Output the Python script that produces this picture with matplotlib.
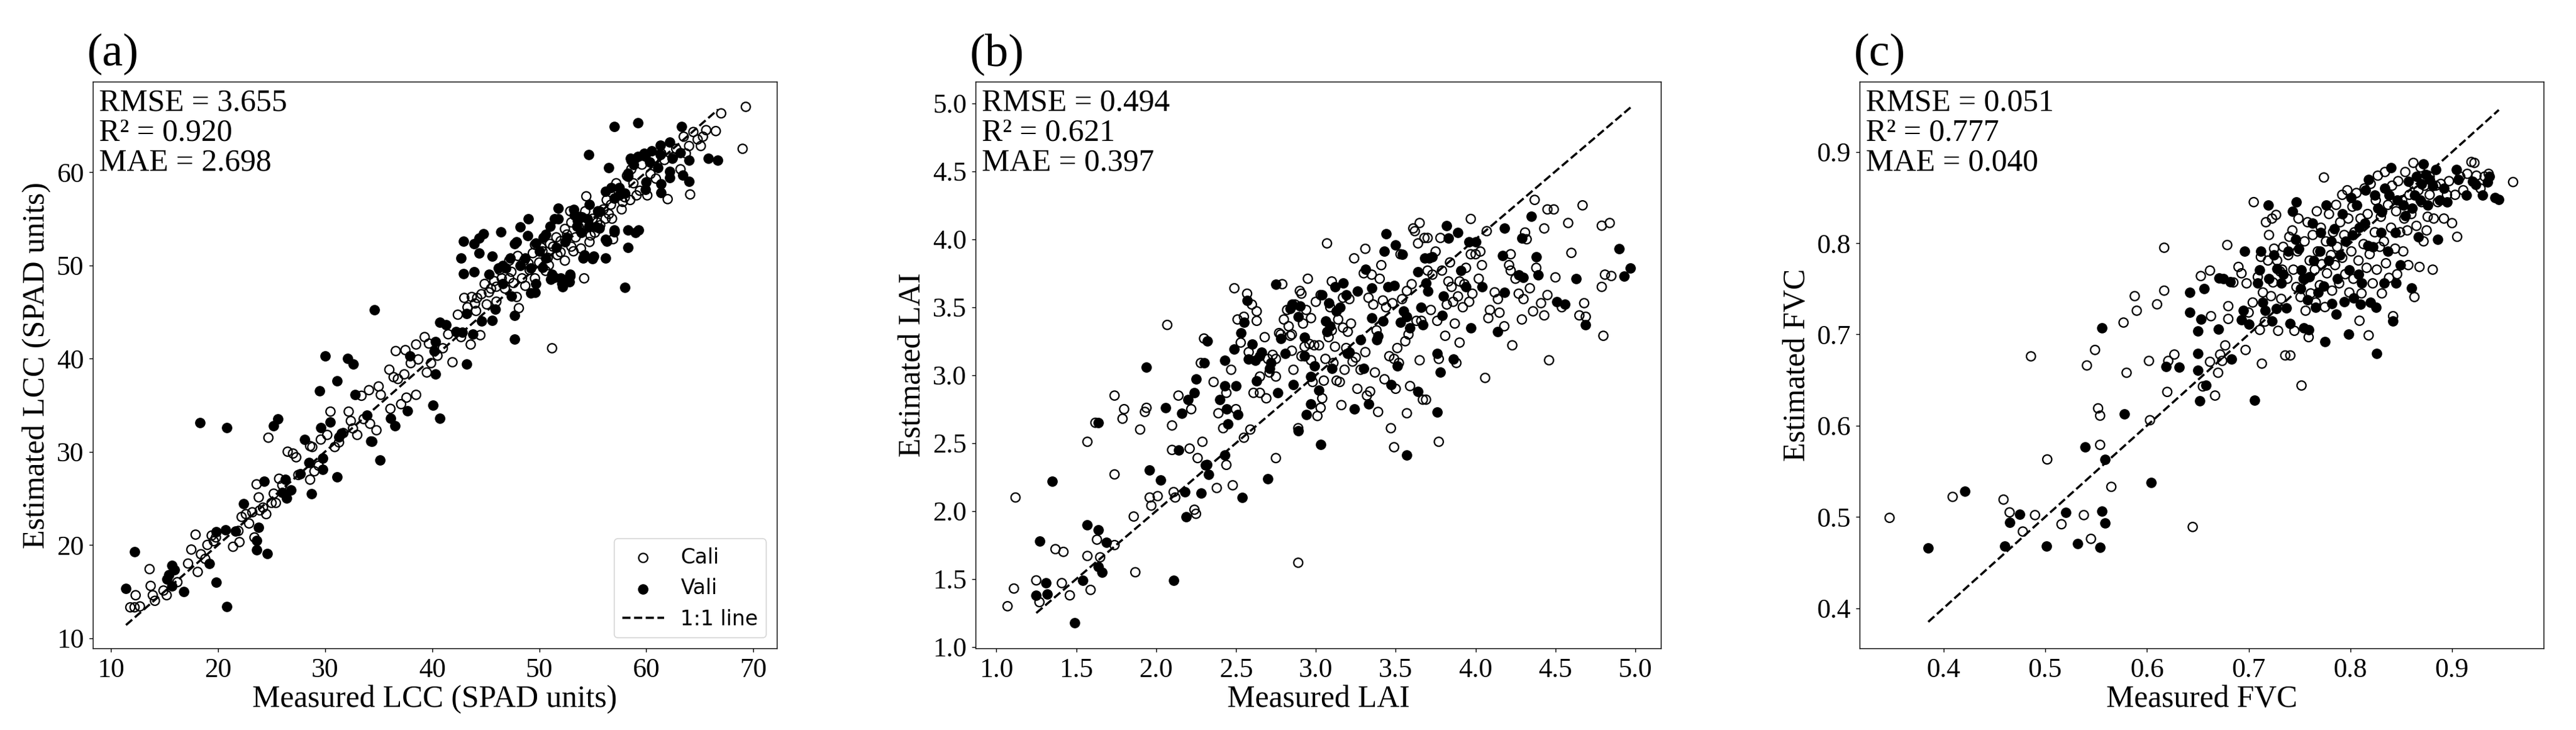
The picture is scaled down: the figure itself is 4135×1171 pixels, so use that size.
import matplotlib
matplotlib.use('Agg')
import matplotlib.pyplot as plt
import matplotlib.ticker as mticker
import numpy as np

plt.rcParams['font.family'] = ['Liberation Serif', 'DejaVu Serif']

# ---------------- Panel (a): LCC ----------------
a_cali = np.array([
(11.8,13.3),(12.2,13.3),(12.3,14.6),(12.7,13.4),(13.6,17.4),(13.7,15.6),(13.9,14.6),(14.1,14.0),(14.9,15.1),(15.2,14.6),
(16.2,16.0),(17.2,18.0),(17.5,19.5),(17.9,21.1),(18.1,17.1),(18.4,19.0),(18.8,18.5),(19.0,20.0),(19.4,21.0),(19.6,20.4),
(19.8,20.8),(21.4,19.8),(21.9,21.5),(22.0,20.3),(22.2,23.0),(22.6,23.3),(22.9,22.3),(23.2,23.5),(23.4,20.8),(23.6,26.5),
(23.8,25.1),(23.9,23.7),(24.2,24.0),(24.5,23.3),(24.7,31.5),(25.0,24.5),(25.2,25.5),(25.4,24.5),(25.7,27.1),(26.0,26.4),
(26.5,30.0),(27.0,29.8),(27.3,29.4),(27.5,27.5),(28.6,30.6),(28.8,30.5),(28.6,27.0),(29.0,27.9),(29.4,28.5),(29.6,31.3),
(30.2,31.8),(30.5,34.3),(30.9,30.5),(31.3,31.0),(31.7,32.0),(32.2,34.3),(32.4,33.3),(32.6,32.5),(33.0,31.8),(33.4,36.0),
(33.6,33.5),(34.1,36.6),(34.2,33.0),(34.3,31.1),(34.8,32.3),(35.0,37.0),(35.2,36.1),(36.0,38.8),(36.1,34.6),(36.4,38.0),
(36.6,40.8),(36.8,37.8),(37.1,35.1),(37.4,38.3),(37.5,40.9),(37.6,35.8),(38.0,39.5),(38.5,41.5),(38.5,36.1),(38.7,39.9),
(39.3,42.3),(39.5,38.5),(39.7,41.6),(39.9,39.5),(40.5,40.3),(41.0,41.1),(41.5,42.6),(41.9,39.6),(42.4,44.7),(42.7,42.3),
(43.0,46.5),(43.3,45.5),(43.6,41.5),(43.7,46.6),(44.0,45.9),(44.1,45.1),(44.2,46.5),(44.5,42.5),(44.6,46.9),(44.9,48.0),
(45.1,45.8),(45.3,47.1),(45.5,47.5),(45.8,48.3),(46.0,46.1),(46.3,49.5),(46.5,48.6),(46.8,47.5),(47.2,50.5),(47.4,49.3),
(47.6,48.1),(47.9,46.6),(48.1,45.4),(48.4,48.6),(48.6,50.5),(48.7,47.8),(49.1,49.5),(49.4,51.3),(49.6,48.6),(50.0,50.3),
(50.3,51.5),(50.6,49.4),(50.8,50.8),(51.2,41.1),(51.3,52.0),(51.7,51.1),(52.0,52.6),(52.4,50.5),(52.6,53.3),(52.9,55.8),
(53.2,51.5),(53.4,53.0),(53.7,54.1),(53.9,51.8),(54.2,48.6),(54.3,55.8),(54.4,57.4),(54.7,52.5),(55.0,55.0),(55.2,53.5),
(55.5,55.8),(55.7,54.3),(56.2,55.0),(56.3,57.0),(56.5,55.5),(56.7,56.5),(56.9,52.8),(57.2,58.8),(57.4,58.0),(57.7,56.0),
(58.0,57.3),(58.2,59.6),(58.6,60.3),(58.8,58.8),(59.1,57.5),(59.4,58.0),(59.6,60.8),(60.1,57.5),(60.4,59.8),(60.7,61.5),
(60.9,59.3),(61.4,62.0),(61.7,61.3),(62.0,57.1),(62.5,61.6),(62.8,62.5),(63.2,60.3),(63.5,63.8),(63.7,62.0),(64.0,62.8),
(64.1,57.6),(64.4,64.3),(64.8,63.5),(65.1,62.8),(65.3,63.8),(65.6,64.5),(66.5,64.4),(67.0,66.3),(69.0,62.5),(69.3,67.0),
(48.0,51.0),(49.0,50.2),(50.2,51.9),(51.0,52.3),(51.6,53.0),(52.4,53.9),(53.0,54.6),(53.8,55.2),(54.8,53.2),(55.4,54.6),
(56.0,56.0),(56.8,55.0),(57.8,56.8),(58.5,57.0),(49.6,52.2),(50.9,50.0),(47.2,48.6),(46.0,47.7),(52.0,51.4),(53.0,52.0),
])
a_vali = np.array([
(11.4,15.3),(12.2,19.3),(15.2,16.3),(15.4,16.8),(15.7,17.8),(15.9,17.3),(15.7,15.6),(16.8,15.0),(18.3,33.1),(19.2,18.0),
(19.8,16.0),(19.8,21.4),(20.7,21.6),(20.8,32.6),(20.8,13.4),(21.6,21.5),(22.4,24.4),(23.6,19.5),(23.6,20.5),(23.8,21.9),
(24.3,26.8),(24.6,19.1),(25.2,32.8),(25.6,33.5),(26.0,25.6),(26.3,27.0),(26.4,25.0),(26.8,25.9),(27.7,27.6),(28.1,31.3),
(28.5,28.8),(28.7,25.5),(29.5,36.5),(29.6,32.6),(29.8,29.3),(29.8,28.1),(30.0,40.3),(30.5,33.2),(31.1,37.6),(31.1,27.3),
(31.3,31.6),(31.5,32.0),(32.1,40.0),(32.6,39.4),(32.8,36.1),(33.9,33.9),(34.4,31.1),(34.6,45.2),(35.1,29.1),(36.1,33.6),
(36.5,32.8),(37.7,34.4),(37.9,40.3),(40.1,35.0),(40.3,38.3),(40.3,41.8),(40.7,33.6),(40.2,40.8),(40.7,43.9),(41.3,43.6),
(42.2,42.9),(42.8,42.8),(43.2,39.4),(42.7,50.8),(42.9,52.6),(42.9,49.1),(43.2,44.8),(43.8,42.6),(43.9,49.3),(43.9,52.3),
(44.4,51.3),(44.8,53.4),(44.6,44.0),(45.3,49.0),(45.6,51.0),(45.6,44.1),(45.9,45.3),(46.4,53.6),(46.6,48.0),(47.4,46.7),
(47.7,44.6),(47.7,42.1),(47.9,52.5),(48.2,54.1),(48.2,50.0),(49.0,55.0),(49.2,47.0),(49.6,47.1),(50.0,51.5),(50.3,49.8),
(50.6,53.3),(51.0,54.2),(51.1,48.5),(51.8,56.1),(51.8,55.0),(52.1,48.0),(52.4,52.5),(52.9,48.8),(53.2,56.0),(53.6,54.8),
(53.9,53.5),(54.1,50.8),(54.6,61.9),(54.7,56.5),(55.1,51.0),(55.6,54.0),(56.2,52.8),(56.2,50.8),(56.5,60.5),(57.0,64.9),
(57.0,53.8),(57.5,57.5),(58.0,47.6),(58.3,53.8),(58.3,51.9),(58.5,61.5),(59.0,53.5),(59.3,53.8),(59.2,65.3),(59.8,62.0),
(60.3,61.1),(61.3,61.9),(61.4,57.8),(62.2,60.1),(62.4,61.5),(63.2,62.1),(63.3,64.9),(64.0,61.3),(64.0,59.0),(65.8,61.5),
(66.7,61.3),(58.3,59.5),(56.7,58.3),(61.1,60.5),
(53.3,55.4),(54.0,55.2),(54.6,54.1),(55.3,54.1),(55.7,55.8),(56.2,57.9),(56.3,52.6),(57.0,53.6),(55.0,50.7),(54.2,51.1),
(51.2,49.0),(52.0,48.6),(52.8,48.2),(52.2,47.7),(52.9,49.0),(57.0,57.2),(58.0,57.7),(57.5,58.3),(58.6,61.3),(59.2,61.7),
(59.9,61.8),(60.5,62.3),(61.3,62.9),(62.2,63.2),(62.2,59.4),(61.4,58.7),(63.4,59.7),(60.0,58.9),(59.9,58.1),(58.8,60.8),
(58.3,59.9),(44.4,52.9),(46.6,50.0),(46.9,49.7),(47.7,52.3),(48.9,53.2),(49.7,52.4),(50.4,53.0),(51.4,55.0),(51.4,48.7),
(49.7,48.0),(46.2,49.7),(47.3,50.8),(48.7,50.8),(49.2,49.7),(50.6,50.8),(51.6,51.9),(52.6,53.0),(53.5,54.2),(54.5,55.0),
(55.5,55.7),
])

# ---------------- Panel (b): LAI ----------------
b_cali = np.array([
(1.07,1.30),(1.11,1.43),(1.12,2.10),(1.25,1.49),(1.27,1.33),(1.37,1.72),(1.41,1.47),(1.42,1.70),(1.46,1.38),(1.57,1.67),
(1.57,2.51),(1.59,1.42),(1.62,2.65),(1.63,1.79),(1.65,1.66),(1.74,1.75),(1.74,2.85),(1.74,2.27),(1.80,2.75),(1.79,2.68),
(1.86,1.96),(1.87,1.55),(1.90,2.60),(1.93,2.73),(1.94,2.76),(1.96,2.10),(1.97,2.04),(2.01,2.11),(2.07,3.37),(2.10,2.45),
(2.10,2.63),(2.11,2.14),(2.12,2.10),(2.14,2.85),(2.21,2.46),(2.22,2.75),(2.24,2.01),(2.25,1.98),(2.26,2.39),(2.28,3.09),
(2.29,2.51),(2.30,3.27),(2.32,2.34),(2.36,2.95),(2.38,2.17),(2.39,2.72),(2.42,2.61),(2.44,2.34),(2.44,2.87),(2.47,3.04),
(2.48,2.19),(2.49,3.64),(2.50,2.75),(2.51,3.41),(2.53,3.24),(2.55,2.54),(2.55,3.43),(2.57,3.60),(2.58,3.17),(2.59,2.60),
(2.60,3.52),(2.61,2.87),(2.63,3.47),(2.63,3.40),(2.65,2.87),(2.65,2.99),(2.68,3.28),(2.69,2.83),(2.70,3.12),(2.71,3.02),
(2.73,3.15),(2.75,2.39),(2.75,3.12),(2.75,2.99),(2.77,3.31),(2.78,3.30),(2.79,3.67),(2.80,3.41),(2.82,3.48),(2.83,3.36),
(2.84,3.29),(2.85,3.18),(2.85,3.30),(2.86,3.04),(2.87,3.52),(2.89,2.61),(2.89,1.62),(2.90,3.62),(2.91,3.14),(2.91,3.60),
(2.92,3.38),(2.93,3.21),(2.94,3.48),(2.95,3.71),(2.96,3.23),(2.97,3.11),(2.97,3.42),(2.98,2.95),(2.99,3.22),(3.00,3.54),
(3.01,2.70),(3.02,3.22),(3.03,3.59),(3.03,2.76),(3.04,2.83),(3.05,2.96),(3.06,3.12),(3.07,3.97),(3.08,3.28),(3.09,3.50),
(3.10,3.69),(3.10,3.33),(3.11,3.09),(3.12,3.21),(3.13,2.96),(3.14,3.41),(3.15,2.95),(3.16,2.78),(3.17,3.57),(3.17,3.35),
(3.18,3.04),(3.19,3.20),(3.20,3.32),(3.21,3.56),(3.22,3.38),(3.23,3.10),(3.24,3.86),(3.25,3.13),(3.26,2.90),(3.28,3.04),
(3.30,3.75),(3.31,3.17),(3.31,3.93),(3.32,2.85),(3.33,3.57),(3.34,2.88),(3.35,3.74),(3.36,3.52),(3.37,3.02),(3.38,3.33),
(3.39,2.73),(3.40,3.71),(3.41,3.81),(3.42,3.55),(3.43,2.97),(3.44,3.50),(3.46,3.14),(3.47,2.61),(3.48,3.53),(3.49,3.12),
(3.49,2.47),(3.50,2.90),(3.51,3.20),(3.52,3.09),(3.53,3.89),(3.54,3.56),(3.56,3.25),(3.57,3.62),(3.57,2.72),(3.58,3.30),
(3.59,2.92),(3.60,3.67),(3.61,4.08),(3.62,4.06),(3.63,3.40),(3.64,3.97),(3.65,4.12),(3.65,3.11),(3.66,3.40),(3.67,2.82),
(3.68,4.01),(3.69,2.82),(3.70,3.77),(3.70,4.01),(3.72,3.48),(3.73,3.74),(3.75,3.91),(3.76,3.40),(3.77,2.51),(3.77,3.12),
(3.78,4.01),(3.79,3.77),(3.81,3.29),(3.82,3.52),(3.83,3.69),(3.84,3.83),(3.85,3.65),(3.86,3.54),(3.87,3.38),(3.88,3.09),
(3.89,3.58),(3.90,3.69),(3.90,3.24),(3.92,3.50),(3.93,3.67),(3.94,3.79),(3.96,3.54),(3.97,4.15),(3.97,3.89),(3.98,3.60),
(4.00,3.89),(4.02,3.71),(4.03,3.91),(4.04,3.81),(4.06,2.98),(4.07,4.06),(4.08,3.42),(4.09,3.48),(4.12,3.61),(4.14,3.56),
(4.15,3.46),(4.18,3.36),(4.21,3.81),(4.22,3.89),(4.22,3.77),(4.23,3.22),(4.25,3.71),(4.27,3.60),(4.29,3.41),(4.30,3.56),
(4.31,4.05),(4.32,4.00),(4.34,3.64),(4.36,3.47),(4.37,4.29),(4.38,3.79),(4.41,3.53),(4.43,3.44),(4.43,4.08),(4.45,3.59),
(4.45,4.22),(4.46,3.11),(4.49,4.22),(4.50,3.72),(4.54,3.50),(4.58,4.12),(4.60,3.90),(4.65,3.44),(4.67,4.25),(4.68,3.53),
(4.69,3.43),(4.79,4.10),(4.79,3.65),(4.80,3.29),(4.81,3.74),(4.84,4.12),(4.85,3.73),
])
b_vali = np.array([
(1.25,1.38),(1.27,1.78),(1.31,1.47),(1.32,1.39),(1.35,2.22),(1.49,1.18),(1.54,1.49),(1.57,1.90),(1.64,1.86),(1.64,2.65),
(1.64,1.59),(1.66,1.55),(1.69,1.77),(1.94,3.06),(1.96,2.30),(2.03,2.23),(2.06,2.76),(2.11,1.49),(2.14,2.45),(2.16,2.72),
(2.18,2.14),(2.19,1.96),(2.20,2.82),(2.24,2.87),(2.25,2.97),(2.28,2.13),(2.30,3.09),(2.32,3.25),(2.31,2.34),(2.33,2.27),
(2.40,2.82),(2.43,3.11),(2.43,2.92),(2.43,2.41),(2.44,2.75),(2.45,2.64),(2.49,3.19),(2.50,2.92),(2.51,2.71),(2.53,3.31),
(2.54,2.10),(2.55,3.39),(2.57,3.55),(2.58,3.12),(2.60,3.23),(2.62,3.11),(2.63,2.96),(2.65,3.14),(2.66,3.17),(2.70,2.24),
(2.71,3.05),(2.72,3.09),(2.75,3.67),(2.76,2.87),(2.78,3.27),(2.81,3.16),(2.84,3.49),(2.85,3.52),(2.86,2.93),(2.89,3.43),
(2.90,3.51),(2.89,2.59),(2.93,3.28),(2.93,3.14),(2.94,2.71),(2.97,2.79),(2.97,2.99),(2.99,3.07),(3.02,2.89),(3.03,2.49),
(3.04,3.59),(3.06,3.40),(3.07,3.32),(3.08,3.53),(3.09,3.36),(3.10,3.05),(3.12,3.65),(3.13,3.47),(3.15,3.50),(3.17,3.68),
(3.19,3.59),(3.20,3.16),(3.21,3.17),(3.24,2.75),(3.26,3.62),(3.28,3.26),(3.30,3.05),(3.31,3.78),(3.33,2.79),(3.35,3.64),
(3.35,3.42),(3.38,3.26),(3.39,3.29),(3.42,3.40),(3.43,3.91),(3.44,4.04),(3.45,3.65),(3.47,2.93),(3.49,3.66),(3.50,3.96),
(3.51,3.07),(3.53,3.39),(3.54,3.89),(3.55,3.47),(3.57,3.43),(3.57,2.41),(3.59,3.35),(3.64,2.88),(3.64,3.76),(3.66,3.50),
(3.67,3.37),(3.68,3.86),(3.69,3.68),(3.70,3.62),(3.71,3.86),(3.73,3.87),(3.76,3.16),(3.76,2.73),(3.78,3.02),(3.79,3.44),
(3.80,3.58),(3.82,4.10),(3.83,4.01),(3.86,3.12),(3.89,4.05),(3.91,3.77),(3.94,3.65),(3.96,3.98),(3.97,3.35),(4.00,3.98),
(4.04,3.65),(4.14,3.32),(4.17,3.88),(4.18,4.08),(4.18,3.61),(4.27,3.74),(4.29,4.01),(4.30,3.72),(4.35,4.17),(4.38,3.87),
(4.39,3.74),(4.51,3.54),(4.56,3.52),(4.63,3.71),(4.69,3.37),(4.90,3.93),(4.93,3.73),(4.97,3.79),
])

# ---------------- Panel (c): FVC ----------------
c_cali = np.array([
(0.347,0.499),(0.409,0.522),(0.459,0.519),(0.465,0.505),(0.478,0.484),(0.486,0.676),(0.490,0.502),(0.502,0.563),(0.516,0.492),(0.538,0.502),
(0.541,0.666),(0.545,0.476),(0.549,0.683),(0.552,0.619),(0.554,0.611),(0.554,0.579),(0.565,0.533),(0.577,0.713),(0.580,0.658),(0.588,0.742),
(0.590,0.726),(0.602,0.671),(0.603,0.606),(0.610,0.733),(0.617,0.748),(0.617,0.795),(0.620,0.637),(0.621,0.671),(0.627,0.678),(0.645,0.489),
(0.653,0.764),(0.655,0.643),(0.662,0.770),(0.662,0.670),(0.663,0.720),(0.667,0.633),(0.670,0.658),(0.672,0.678),(0.674,0.671),(0.677,0.688),
(0.679,0.798),(0.680,0.731),(0.680,0.717),(0.685,0.757),(0.690,0.774),(0.693,0.767),(0.697,0.683),(0.698,0.756),(0.700,0.724),(0.704,0.735),
(0.705,0.845),(0.709,0.763),(0.711,0.705),(0.712,0.785),(0.713,0.668),(0.714,0.746),(0.716,0.714),(0.717,0.823),(0.719,0.781),(0.720,0.809),
(0.722,0.742),(0.723,0.827),(0.724,0.757),(0.725,0.794),(0.727,0.831),(0.728,0.781),(0.729,0.704),(0.731,0.769),(0.732,0.739),(0.733,0.771),
(0.734,0.796),(0.736,0.677),(0.738,0.761),(0.739,0.787),(0.740,0.807),(0.741,0.677),(0.743,0.814),(0.744,0.771),(0.745,0.704),(0.747,0.752),
(0.748,0.791),(0.749,0.827),(0.751,0.741),(0.752,0.644),(0.754,0.761),(0.755,0.802),(0.756,0.726),(0.758,0.823),(0.759,0.697),(0.760,0.781),
(0.761,0.745),(0.763,0.809),(0.765,0.771),(0.766,0.735),(0.767,0.835),(0.768,0.791),(0.770,0.754),(0.771,0.817),(0.772,0.777),(0.774,0.872),
(0.775,0.730),(0.776,0.802),(0.777,0.767),(0.779,0.832),(0.781,0.787),(0.782,0.748),(0.783,0.812),(0.785,0.776),(0.786,0.842),(0.787,0.796),
(0.789,0.756),(0.790,0.823),(0.792,0.784),(0.792,0.853),(0.794,0.809),(0.795,0.766),(0.797,0.858),(0.798,0.827),(0.799,0.746),(0.801,0.791),
(0.802,0.840),(0.803,0.761),(0.804,0.812),(0.806,0.855),(0.808,0.781),(0.809,0.715),(0.810,0.827),(0.811,0.745),(0.813,0.799),(0.814,0.860),
(0.816,0.773),(0.817,0.832),(0.818,0.699),(0.819,0.788),(0.820,0.865),(0.822,0.756),(0.824,0.812),(0.825,0.847),(0.826,0.771),(0.827,0.874),
(0.829,0.796),(0.830,0.829),(0.831,0.745),(0.833,0.802),(0.834,0.878),(0.835,0.778),(0.837,0.842),(0.838,0.762),(0.840,0.817),(0.841,0.863),
(0.842,0.720),(0.844,0.794),(0.845,0.835),(0.846,0.766),(0.847,0.868),(0.849,0.812),(0.851,0.847),(0.852,0.791),(0.853,0.827),(0.854,0.878),
(0.856,0.814),(0.857,0.776),(0.858,0.853),(0.860,0.832),(0.862,0.865),(0.862,0.888),(0.863,0.741),(0.865,0.819),(0.867,0.858),(0.868,0.774),
(0.869,0.883),(0.870,0.845),(0.872,0.802),(0.873,0.863),(0.875,0.814),(0.876,0.829),(0.878,0.873),(0.878,0.853),(0.881,0.771),(0.882,0.827),
(0.884,0.863),(0.886,0.845),(0.889,0.865),(0.892,0.827),(0.895,0.853),(0.897,0.868),(0.900,0.822),(0.903,0.853),(0.905,0.807),(0.908,0.873),
(0.911,0.858),(0.915,0.876),(0.919,0.889),(0.922,0.888),(0.924,0.874),(0.928,0.860),(0.932,0.873),(0.936,0.876),(0.960,0.867),
])
c_vali = np.array([
(0.385,0.466),(0.421,0.528),(0.460,0.468),(0.465,0.494),(0.475,0.503),(0.501,0.468),(0.520,0.505),(0.532,0.471),(0.539,0.577),(0.554,0.467),
(0.556,0.506),(0.559,0.493),(0.559,0.563),(0.556,0.707),(0.578,0.613),(0.604,0.538),(0.619,0.665),(0.632,0.664),(0.642,0.746),(0.642,0.724),
(0.650,0.704),(0.650,0.679),(0.650,0.661),(0.652,0.627),(0.653,0.717),(0.656,0.750),(0.658,0.644),(0.670,0.706),(0.671,0.762),(0.675,0.761),
(0.682,0.758),(0.683,0.673),(0.693,0.716),(0.695,0.726),(0.696,0.791),(0.700,0.711),(0.706,0.628),(0.709,0.756),(0.711,0.771),(0.712,0.791),
(0.714,0.735),(0.716,0.726),(0.719,0.842),(0.720,0.761),(0.723,0.715),(0.725,0.787),(0.727,0.728),(0.728,0.772),(0.732,0.756),(0.734,0.766),
(0.737,0.729),(0.739,0.791),(0.741,0.712),(0.743,0.835),(0.746,0.804),(0.747,0.845),(0.749,0.794),(0.751,0.750),(0.752,0.771),(0.754,0.707),
(0.755,0.761),(0.758,0.738),(0.759,0.705),(0.760,0.763),(0.763,0.822),(0.764,0.781),(0.766,0.730),(0.768,0.746),(0.770,0.791),(0.771,0.812),
(0.774,0.753),(0.775,0.692),(0.776,0.842),(0.779,0.781),(0.781,0.802),(0.782,0.734),(0.784,0.816),(0.786,0.722),(0.787,0.761),(0.790,0.787),
(0.792,0.832),(0.794,0.736),(0.795,0.802),(0.798,0.700),(0.799,0.771),(0.801,0.850),(0.802,0.809),(0.803,0.740),(0.806,0.842),(0.808,0.766),
(0.809,0.817),(0.810,0.733),(0.811,0.756),(0.814,0.822),(0.815,0.858),(0.817,0.797),(0.818,0.870),(0.820,0.735),(0.822,0.796),(0.824,0.853),
(0.825,0.730),(0.826,0.679),(0.827,0.838),(0.830,0.812),(0.831,0.834),(0.833,0.756),(0.834,0.860),(0.837,0.791),(0.838,0.853),(0.840,0.883),
(0.842,0.715),(0.844,0.812),(0.845,0.756),(0.846,0.847),(0.849,0.776),(0.852,0.842),(0.854,0.830),(0.857,0.868),(0.860,0.751),(0.861,0.838),
(0.863,0.853),(0.865,0.873),(0.867,0.807),(0.869,0.847),(0.870,0.865),(0.872,0.887),(0.874,0.875),(0.876,0.842),(0.878,0.870),(0.881,0.863),
(0.884,0.881),(0.886,0.804),(0.888,0.847),(0.892,0.860),(0.895,0.845),(0.904,0.881),(0.906,0.870),(0.914,0.853),(0.920,0.868),(0.923,0.864),
(0.930,0.853),(0.935,0.867),(0.937,0.873),(0.942,0.850),(0.946,0.848),
])

tags = ['(a)', '(b)', '(c)']
stats = ['RMSE = 3.655\nR\u00b2 = 0.920\nMAE = 2.698',
         'RMSE = 0.494\nR\u00b2 = 0.621\nMAE = 0.397',
         'RMSE = 0.051\nR\u00b2 = 0.777\nMAE = 0.040']
xlabels = ['Measured LCC (SPAD units)', 'Measured LAI', 'Measured FVC']
ylabels = ['Estimated LCC (SPAD units)', 'Estimated LAI', 'Estimated FVC']
xticks = [[10, 20, 30, 40, 50, 60, 70], [1.0, 1.5, 2.0, 2.5, 3.0, 3.5, 4.0, 4.5, 5.0], [0.4, 0.5, 0.6, 0.7, 0.8, 0.9]]
yticks = [[10, 20, 30, 40, 50, 60], [1.0, 1.5, 2.0, 2.5, 3.0, 3.5, 4.0, 4.5, 5.0], [0.4, 0.5, 0.6, 0.7, 0.8, 0.9]]
fmts = ['%d', '%.1f', '%.1f']
xlims = [(8.3, 72.2), (0.87, 5.16), (0.3175, 0.990)]
ylims = [(8.9, 69.7), (0.99, 5.16), (0.356, 0.977)]
cali_sets = [a_cali, b_cali, c_cali]
vali_sets = [a_vali, b_vali, c_vali]

W, H = 4135, 1171
fig = plt.figure(figsize=(W / 300, H / 300), dpi=300)
lefts = [149, 1566, 2985]
widths = [1098, 1100, 1098]
top_px, bot_px = 131, 1040

S = 12
LW = 0.55
TICK_FS = 10.5
LABEL_FS = 12
STAT_FS = 12

for i in range(3):
    ax = fig.add_axes([lefts[i] / W, 1 - bot_px / H, widths[i] / W, (bot_px - top_px) / H])
    cali = cali_sets[i]
    vali = vali_sets[i]
    ax.scatter(cali[:, 0], cali[:, 1], s=S, facecolors='none', edgecolors='k', linewidths=LW, label='Cali', zorder=2)
    ax.scatter(vali[:, 0], vali[:, 1], s=S, facecolors='k', edgecolors='k', linewidths=LW, label='Vali', zorder=3)
    lo, hi = vali[:, 0].min(), vali[:, 0].max()
    ax.plot([lo, hi], [lo, hi], 'k--', lw=0.85, label='1:1 line', zorder=4)
    ax.set_xlim(*xlims[i])
    ax.set_ylim(*ylims[i])
    ax.set_xticks(xticks[i])
    ax.set_yticks(yticks[i])
    ax.xaxis.set_major_formatter(mticker.FormatStrFormatter(fmts[i]))
    ax.yaxis.set_major_formatter(mticker.FormatStrFormatter(fmts[i]))
    ax.tick_params(labelsize=TICK_FS, length=1.5, width=0.35, pad=2)
    for sp in ax.spines.values():
        sp.set_linewidth(0.35)
    ax.set_xlabel(xlabels[i], fontsize=LABEL_FS, labelpad=1)
    ax.set_ylabel(ylabels[i], fontsize=LABEL_FS, labelpad=2)
    ax.text(0.009, 0.988, stats[i], transform=ax.transAxes, fontsize=STAT_FS, va='top', ha='left', linespacing=1.05)
    ax.text(-0.008, 1.028, tags[i], transform=ax.transAxes, fontsize=18, va='baseline', ha='left')
    if i == 0:
        leg = ax.legend(loc='lower right', prop={'family': 'DejaVu Sans', 'size': 8}, fancybox=True, framealpha=0.8)
        leg.get_frame().set_linewidth(0.4)

fig.savefig('out.png', dpi=300)
